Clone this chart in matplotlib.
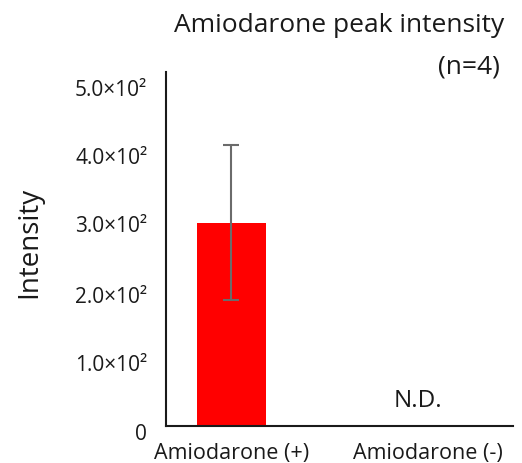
import matplotlib
matplotlib.use("Agg")
import matplotlib.pyplot as plt
from matplotlib.transforms import ScaledTranslation

categories = ["Amiodarone (+)", "Amiodarone (-)"]
values = [287, 0]
errors = [109, 0]
yticks = [0, 100, 200, 300, 400, 500]
ytick_labels = ["0", "1.0×10²", "2.0×10²", "3.0×10²", "4.0×10²", "5.0×10²"]

plt.rcParams['font.family'] = ['Open Sans', 'DejaVu Sans']

fig = plt.figure(figsize=(5.22, 4.64), dpi=100)
ax = fig.add_axes([166/522, 1-427.3/464, (513-166)/522, (427.3-72.7)/464])

x = [0, 1]
ax.bar(x[0], values[0], width=0.35, color="#ff0000")
ax.errorbar(x[0], values[0], yerr=errors[0], fmt="none", ecolor="#6b6b6b",
            elinewidth=1.5, capsize=6, capthick=1.5)
nd = ax.text(x[1], 28, "N.D.", ha="center", va="baseline", fontsize=17.5, color="#1a1a1a")
nd.set_transform(nd.get_transform() + ScaledTranslation(-10/100, 0, fig.dpi_scale_trans))

ax.set_xlim(-0.33, 1.43)
ax.set_ylim(0, 500)
ax.set_xticks(x)
ax.set_xticklabels(categories, fontsize=15.5, color="#1a1a1a")
ax.set_yticks(yticks)
ax.set_yticklabels(ytick_labels, fontsize=15, color="#1a1a1a")
ax.tick_params(axis="both", length=0)
ax.tick_params(axis="y", pad=13.5)
ax.tick_params(axis="x", pad=11)

# label offsets (px, downward) as in the reference
offsets = [5, 7, 10, 9.5, 12, 15]
for lab, off in zip(ax.get_yticklabels(), offsets):
    lab.set_transform(lab.get_transform() + ScaledTranslation(0, -off/100, fig.dpi_scale_trans))

for s in ["top", "right"]:
    ax.spines[s].set_visible(False)
for s in ["left", "bottom"]:
    ax.spines[s].set_linewidth(1.5)
    ax.spines[s].set_color("#1a1a1a")

ax.set_ylabel("Intensity", fontsize=20, color="#1a1a1a")
ax.yaxis.set_label_coords((43-166)/347, (427.3-242.5)/354.6)

fig.text(504/522, 1-13/464, "Amiodarone peak intensity", ha="right", va="top",
         fontsize=19, color="#1a1a1a")
fig.text(500/522, 1-54/464, "(n=4)", ha="right", va="top",
         fontsize=19, color="#1a1a1a")

fig.savefig("out.png", dpi=100, facecolor="white")
